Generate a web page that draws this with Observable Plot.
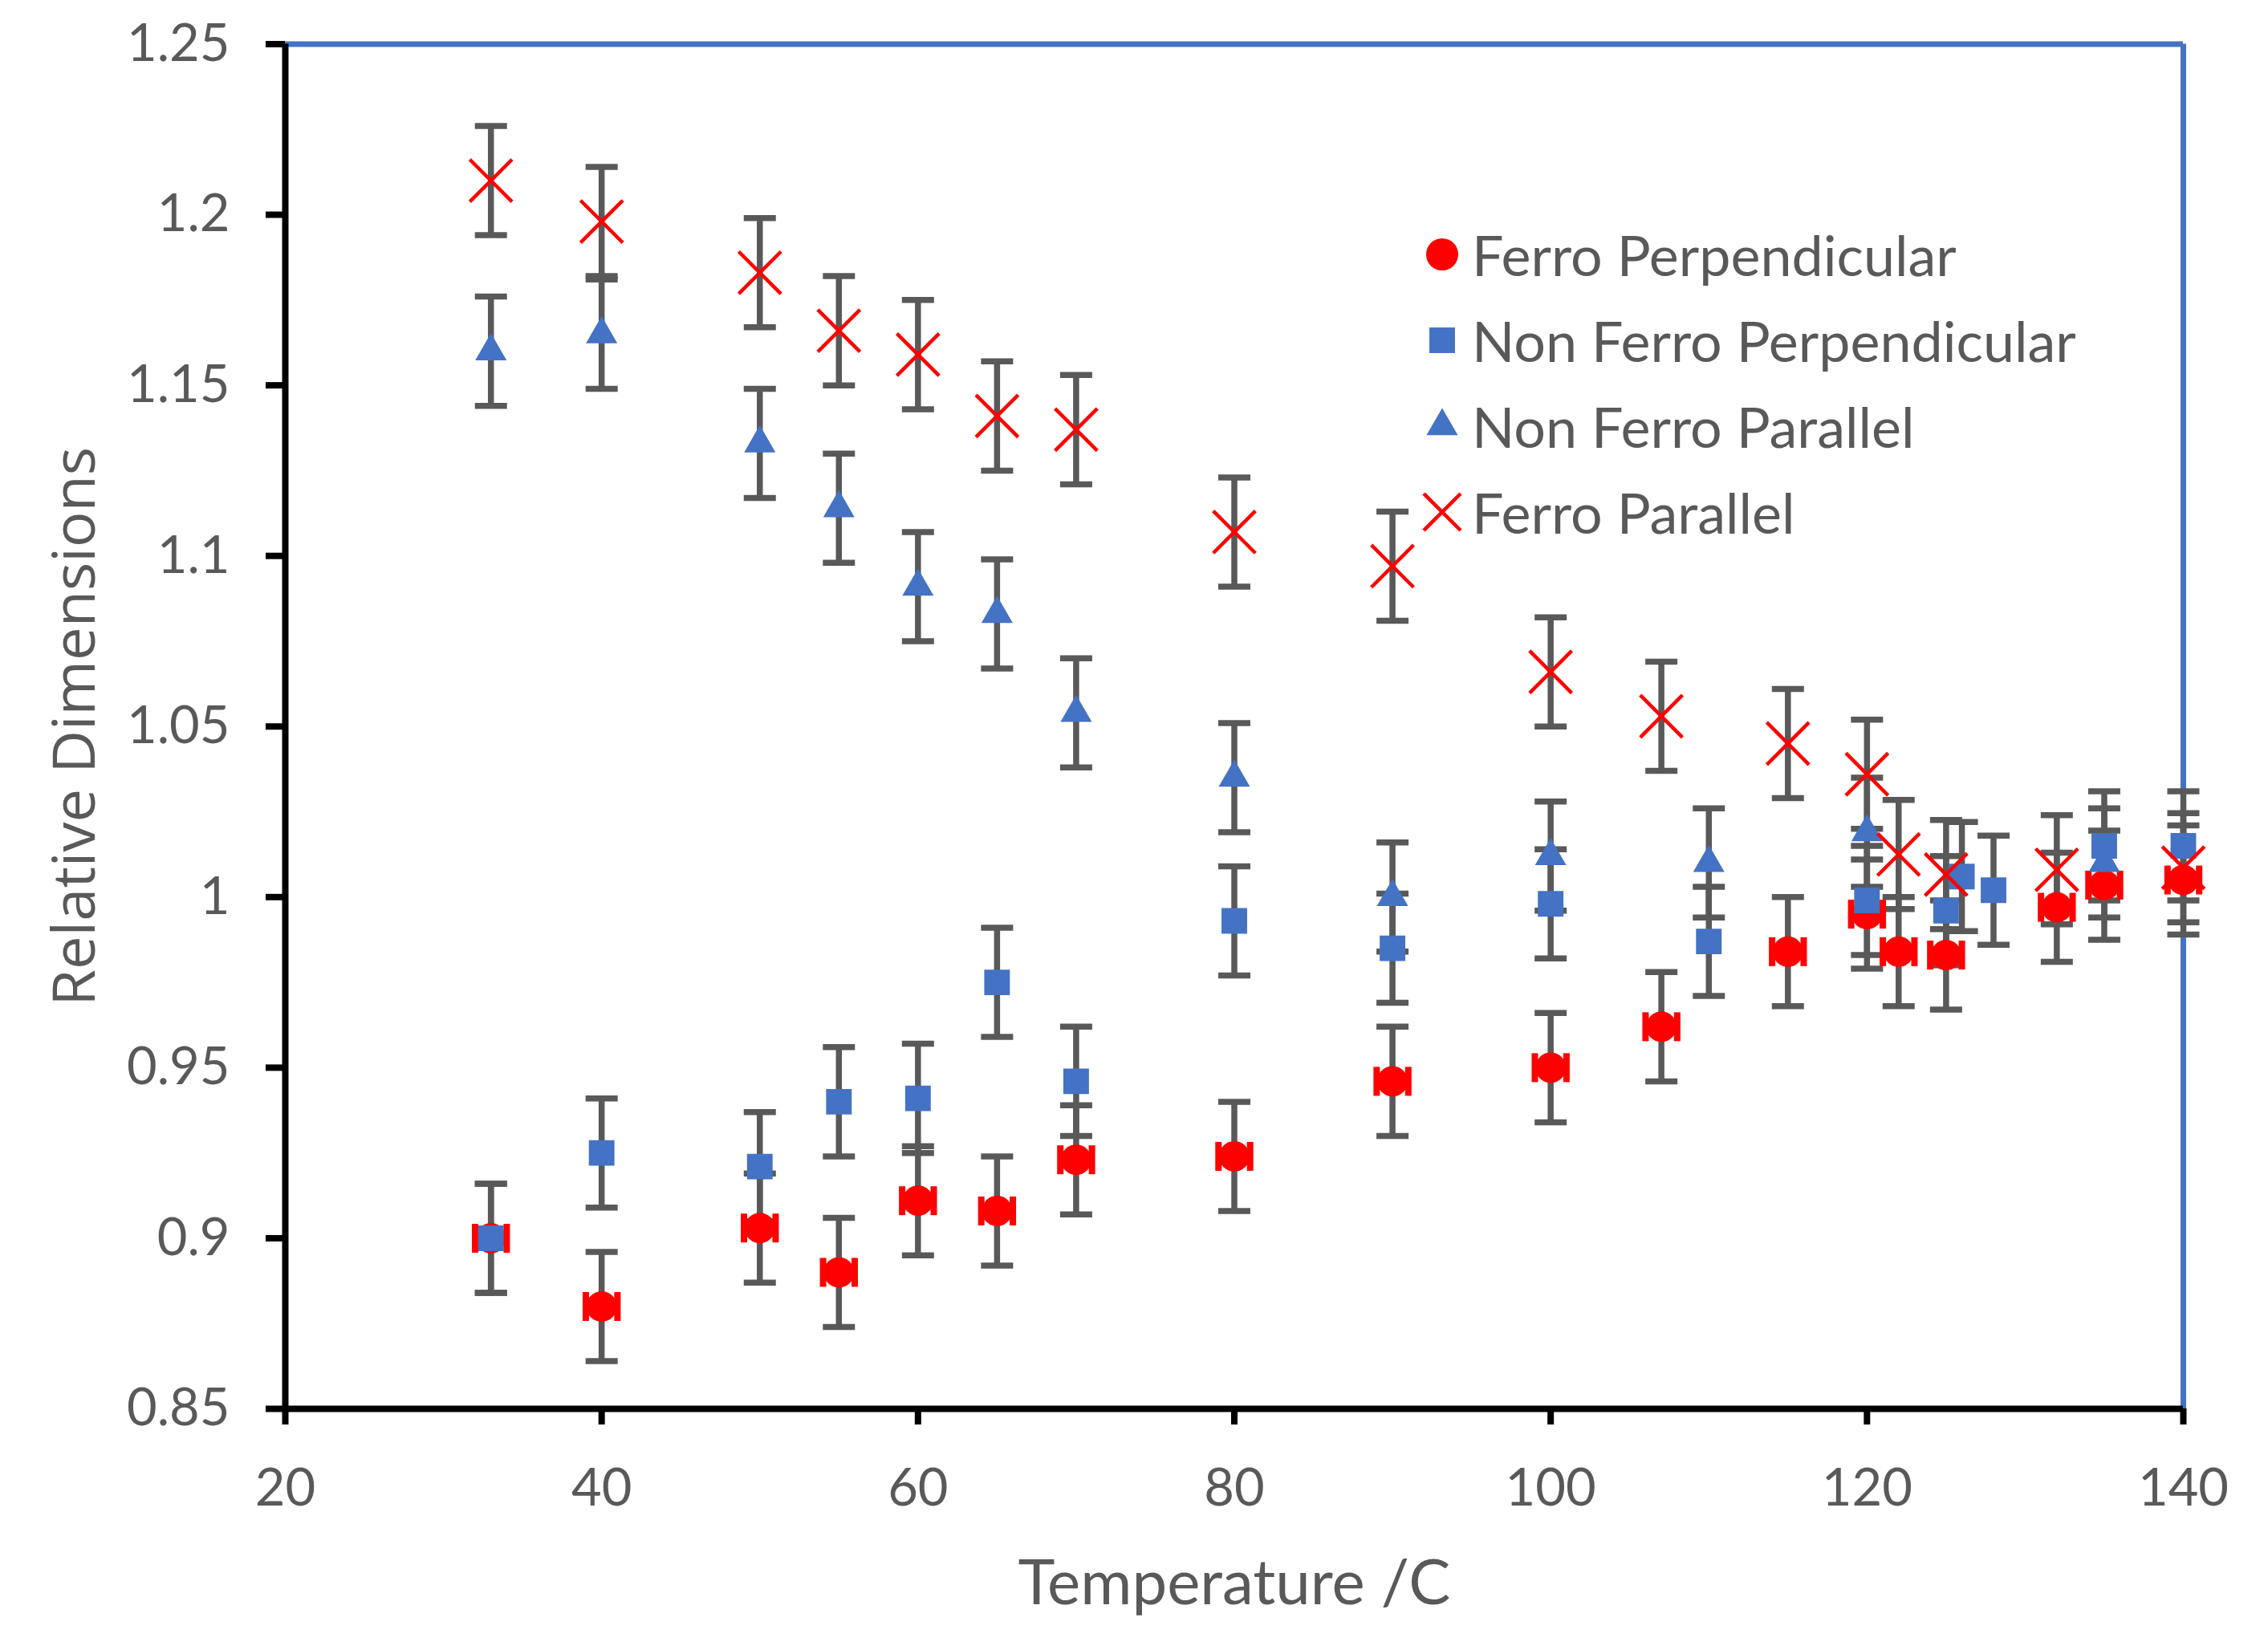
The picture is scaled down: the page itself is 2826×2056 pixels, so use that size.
<!DOCTYPE html>
<html>
<head>
<meta charset="utf-8">
<script src="https://cdn.jsdelivr.net/npm/d3@7"></script>
<script src="https://cdn.jsdelivr.net/npm/@observablehq/plot@0.6"></script>
<style>
  html, body { margin: 0; padding: 0; background: #fff; }
  #chart { position: relative; width: 2826px; height: 2056px; }
  .leyenda { position: absolute; left: 1769px; top: 263px; font-family: Lato, sans-serif; font-size: 70px; color: #595959; }
  .leyenda div { height: 107px; display: flex; align-items: center; white-space: nowrap; }
  .leyenda svg { width: 56px; height: 56px; margin-right: 9px; overflow: visible; }
</style>
</head>
<body>
<div id="chart"></div>
<script>
// Datos (temperatura en °C, dimensión relativa)
const T_FERRO_PERP = [33, 40, 50, 55, 60, 65, 70, 80, 90, 100, 107, 115, 120, 122, 125, 132, 135, 140];
const V_FERRO_PERP = [0.900, 0.880, 0.903, 0.890, 0.911, 0.908, 0.923, 0.924, 0.946, 0.950, 0.962, 0.984, 0.995, 0.984, 0.983, 0.997, 1.0035, 1.005];

const T_NF_PERP = [33, 40, 50, 55, 60, 65, 70, 80, 90, 100, 110, 120, 125, 126, 128, 135, 140];
const V_NF_PERP = [0.900, 0.925, 0.921, 0.940, 0.941, 0.975, 0.946, 0.993, 0.985, 0.998, 0.987, 0.999, 0.996, 1.006, 1.002, 1.015, 1.015];

const T_NF_PAR = [33, 40, 50, 55, 60, 65, 70, 80, 90, 100, 110, 120, 135];
const V_NF_PAR = [1.160, 1.165, 1.133, 1.114, 1.091, 1.083, 1.054, 1.035, 1.000, 1.012, 1.010, 1.019, 1.010];

const T_FERRO_PAR = [33, 40, 50, 55, 60, 65, 70, 80, 90, 100, 107, 115, 120, 122, 125, 132, 140];
const V_FERRO_PAR = [1.210, 1.198, 1.183, 1.166, 1.159, 1.141, 1.137, 1.107, 1.097, 1.066, 1.053, 1.045, 1.036, 1.0125, 1.0066, 1.008, 1.0086];

const ERR = 0.016;     // barra de error vertical ± (todas las series)
const XERR_FP = 1.0;   // barra de error horizontal ± °C (Ferro Perpendicular)

const SERIES = ["Ferro Perpendicular", "Non Ferro Perpendicular", "Non Ferro Parallel", "Ferro Parallel"];
const X_TICKS = [20, 40, 60, 80, 100, 120, 140];
const Y_TICKS = [0.85, 0.9, 0.95, 1, 1.05, 1.1, 1.15, 1.2, 1.25];
const X_LABEL = "Temperature /C";
const Y_LABEL = "Relative Dimensions";

const ROJO = "#FF0000";
const AZUL = "#4472C4";
const GRIS = "#595959";

function filas(serie, ts, vs) {
  return ts.map((t, i) => ({ serie, t, v: vs[i], lo: vs[i] - ERR, hi: vs[i] + ERR }));
}

const ferroPerp = filas(SERIES[0], T_FERRO_PERP, V_FERRO_PERP);
const nfPerp = filas(SERIES[1], T_NF_PERP, V_NF_PERP);
const nfPar = filas(SERIES[2], T_NF_PAR, V_NF_PAR);
const ferroPar = filas(SERIES[3], T_FERRO_PAR, V_FERRO_PAR);
const todas = [...ferroPerp, ...nfPerp, ...nfPar, ...ferroPar];

// remates de las barras de error (horizontal y vertical)
const capaH = {
  draw(ctx, size) {
    const r = Math.sqrt(size / Math.PI);
    ctx.moveTo(-r, 0);
    ctx.lineTo(r, 0);
  }
};
const capaV = {
  draw(ctx, size) {
    const r = Math.sqrt(size / Math.PI);
    ctx.moveTo(0, -r);
    ctx.lineTo(0, r);
  }
};

const grafico = Plot.plot({
  width: 2826, height: 2056,
  marginLeft: 355, marginRight: 106, marginTop: 54.5, marginBottom: 301,
  style: { fontFamily: "Lato, sans-serif", fontSize: "65px", background: "white", overflow: "visible" },
  x: { domain: [20, 140] },
  y: { domain: [0.85, 1.25] },
  marks: [
    // marco: arriba y derecha en azul
    Plot.ruleY([1.25], { stroke: AZUL, strokeWidth: 7 }),
    Plot.ruleX([140], { stroke: AZUL, strokeWidth: 7 }),
    // barras de error verticales
    Plot.ruleX(todas, { x: "t", y1: "lo", y2: "hi", stroke: GRIS, strokeWidth: 7.5 }),
    Plot.dot(todas, { x: "t", y: "hi", symbol: capaH, r: 20, fill: "none", stroke: GRIS, strokeWidth: 7.5 }),
    Plot.dot(todas, { x: "t", y: "lo", symbol: capaH, r: 20, fill: "none", stroke: GRIS, strokeWidth: 7.5 }),
    // Ferro Perpendicular: barra horizontal roja (remates a los lados) + círculo
    Plot.dot(ferroPerp, { x: (d) => d.t - XERR_FP, y: "v", symbol: capaV, r: 18, fill: "none", stroke: ROJO, strokeWidth: 8 }),
    Plot.dot(ferroPerp, { x: (d) => d.t + XERR_FP, y: "v", symbol: capaV, r: 18, fill: "none", stroke: ROJO, strokeWidth: 8 }),
    Plot.dot(ferroPerp, { x: "t", y: "v", symbol: "circle", r: 19, fill: ROJO }),
    Plot.dot(nfPerp, { x: "t", y: "v", symbol: "square", r: 18, fill: AZUL }),
    Plot.dot(nfPar, { x: "t", y: "v", symbol: "triangle", r: 14.5, fill: AZUL }),
    Plot.dot(ferroPar, { x: "t", y: "v", symbol: "times", r: 24, fill: "none", stroke: ROJO, strokeWidth: 4.5 }),
    // ejes
    Plot.axisY(Y_TICKS, {
      tickSize: 24, tickPadding: 45, stroke: "black", strokeWidth: 8, color: GRIS,
      tickFormat: (d) => String(+d.toFixed(2)), label: null,
    }),
    Plot.axisX(X_TICKS, {
      tickSize: 20, tickPadding: 54, stroke: "black", strokeWidth: 8, color: GRIS,
      tickFormat: (d) => String(d), label: null,
    }),
    Plot.ruleX([20], { stroke: "black", strokeWidth: 8 }),
    Plot.ruleY([0.85], { stroke: "black", strokeWidth: 8 }),
    // títulos de ejes
    Plot.text([Y_LABEL], {
      frameAnchor: "left", dx: -261, rotate: -90, textAnchor: "middle", text: (d) => d,
      fontSize: 74, fontFamily: "Open Sans, sans-serif", fill: GRIS,
    }),
    Plot.text([X_LABEL], {
      frameAnchor: "bottom", dy: 243, text: (d) => d,
      fontSize: 78, fill: GRIS,
    }),
  ],
});

const host = document.getElementById("chart");
host.appendChild(grafico);

// leyenda dentro del área de trazado
const SIMBOLOS = [
  { tipo: d3.symbolCircle, r: 20, fill: ROJO, stroke: "none" },
  { tipo: d3.symbolSquare, r: 18, fill: AZUL, stroke: "none" },
  { tipo: d3.symbolTriangle, r: 14.5, fill: AZUL, stroke: "none" },
  { tipo: d3.symbolTimes, r: 21, fill: "none", stroke: ROJO },
];
const leyenda = document.createElement("div");
leyenda.className = "leyenda";
SERIES.forEach((nombre, i) => {
  const s = SIMBOLOS[i];
  const path = d3.symbol(s.tipo, Math.PI * s.r * s.r)();
  const fila = document.createElement("div");
  fila.innerHTML =
    `<svg viewBox="-28 -28 56 56"><path d="${path}" fill="${s.fill}" stroke="${s.stroke}" stroke-width="4.5"/></svg>` +
    `<span>${nombre}</span>`;
  leyenda.appendChild(fila);
});
host.appendChild(leyenda);
</script>
</body>
</html>
